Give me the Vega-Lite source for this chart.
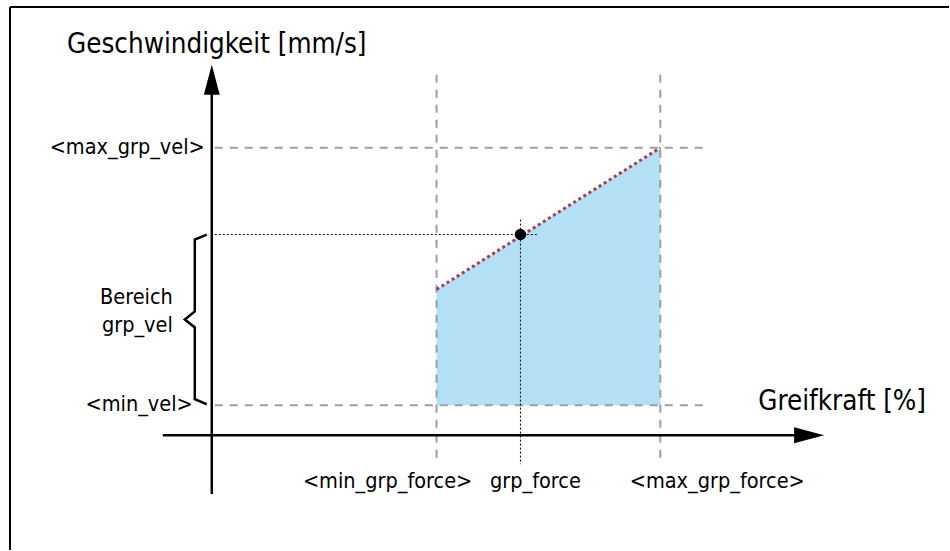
{
  "$schema": "https://vega.github.io/schema/vega-lite/v6.json",
  "width": 950,
  "height": 551,
  "autosize": {"type": "fit", "contains": "padding"},
  "padding": 0,
  "background": "white",
  "config": {"view": {"stroke": null}},
  "datasets": {
    "area": [
      {"x": 225, "top": 146, "bottom": 30},
      {"x": 449, "top": 288, "bottom": 30}
    ],
    "grayDash": [
      {"x": 3, "y": 288, "x2": 498, "y2": 288},
      {"x": 3, "y": 30, "x2": 498, "y2": 30},
      {"x": 225, "y": 361, "x2": 225, "y2": -29},
      {"x": 449, "y": 361, "x2": 449, "y2": -29}
    ],
    "blackDot": [
      {"x": 3, "y": 201, "x2": 326, "y2": 201},
      {"x": 309, "y": 216, "x2": 309, "y2": -29}
    ],
    "redLine": [
      {"x": 225, "y": 146, "x2": 449, "y2": 288}
    ],
    "solid": [
      {"x": 0, "y": -59, "x2": 0, "y2": 345},
      {"x": -49, "y": 0, "x2": 590, "y2": 0}
    ],
    "frame": [
      {"x": -202, "y": 429, "x2": 738, "y2": 429},
      {"x": -202, "y": 429, "x2": -202, "y2": -115}
    ],
    "brace": [
      {"o": 1, "x": -5, "y": 201},
      {"o": 2, "x": -17, "y": 196},
      {"o": 3, "x": -17, "y": 124},
      {"o": 4, "x": -27, "y": 116},
      {"o": 5, "x": -17, "y": 108},
      {"o": 6, "x": -17, "y": 36},
      {"o": 7, "x": -5, "y": 31}
    ],
    "arrowUp": [{"x": 0, "y": 356}],
    "arrowRight": [{"x": 598, "y": 0}],
    "dot": [{"x": 309, "y": 201}],
    "bigText": [
      {"x": 5, "y": 391, "t": "Geschwindigkeit [mm/s]"},
      {"x": 631, "y": 33, "t": "Greifkraft [%]"}
    ],
    "rightText": [
      {"x": -7, "y": 288, "t": "<max_grp_vel>"},
      {"x": -39, "y": 137, "t": "Bereich"},
      {"x": -39, "y": 109, "t": "grp_vel"},
      {"x": -19, "y": 30, "t": "<min_vel>"}
    ],
    "bottomText": [
      {"x": 176, "y": -47, "t": "<min_grp_force>"},
      {"x": 324, "y": -47, "t": "grp_force"},
      {"x": 506, "y": -47, "t": "<max_grp_force>"}
    ]
  },
  "encoding": {
    "x": {"type": "quantitative", "scale": {"domain": [-212, 738], "nice": false, "zero": false}, "axis": null},
    "y": {"type": "quantitative", "scale": {"domain": [-115, 436], "nice": false, "zero": false}, "axis": null}
  },
  "layer": [
    {
      "data": {"name": "area"},
      "mark": {"type": "area", "color": "#b3e0f4", "opacity": 1},
      "encoding": {
        "x": {"field": "x", "type": "quantitative"},
        "y": {"field": "top", "type": "quantitative"},
        "y2": {"field": "bottom"}
      }
    },
    {
      "data": {"name": "grayDash"},
      "mark": {"type": "rule", "color": "#9e9e9e", "strokeWidth": 2, "strokeDash": [8, 7]},
      "encoding": {
        "x": {"field": "x", "type": "quantitative"},
        "y": {"field": "y", "type": "quantitative"},
        "x2": {"field": "x2"},
        "y2": {"field": "y2"}
      }
    },
    {
      "data": {"name": "blackDot"},
      "mark": {"type": "rule", "color": "#000000", "strokeWidth": 1, "strokeDash": [2, 2]},
      "encoding": {
        "x": {"field": "x", "type": "quantitative"},
        "y": {"field": "y", "type": "quantitative"},
        "x2": {"field": "x2"},
        "y2": {"field": "y2"}
      }
    },
    {
      "data": {"name": "redLine"},
      "mark": {"type": "rule", "color": "#b03a4a", "strokeWidth": 3, "strokeDash": [3, 3]},
      "encoding": {
        "x": {"field": "x", "type": "quantitative"},
        "y": {"field": "y", "type": "quantitative"},
        "x2": {"field": "x2"},
        "y2": {"field": "y2"}
      }
    },
    {
      "data": {"name": "solid"},
      "mark": {"type": "rule", "color": "#000000", "strokeWidth": 2.5},
      "encoding": {
        "x": {"field": "x", "type": "quantitative"},
        "y": {"field": "y", "type": "quantitative"},
        "x2": {"field": "x2"},
        "y2": {"field": "y2"}
      }
    },
    {
      "data": {"name": "frame"},
      "mark": {"type": "rule", "color": "#000000", "strokeWidth": 2},
      "encoding": {
        "x": {"field": "x", "type": "quantitative"},
        "y": {"field": "y", "type": "quantitative"},
        "x2": {"field": "x2"},
        "y2": {"field": "y2"}
      }
    },
    {
      "data": {"name": "brace"},
      "mark": {"type": "line", "color": "#000000", "strokeWidth": 2.5, "strokeJoin": "miter"},
      "encoding": {
        "x": {"field": "x", "type": "quantitative"},
        "y": {"field": "y", "type": "quantitative"},
        "order": {"field": "o", "type": "quantitative"}
      }
    },
    {
      "data": {"name": "arrowUp"},
      "mark": {"type": "point", "shape": "M0,-1L0.53,1L-0.53,1Z", "size": 900, "filled": true, "color": "#000000", "opacity": 1},
      "encoding": {
        "x": {"field": "x", "type": "quantitative"},
        "y": {"field": "y", "type": "quantitative"}
      }
    },
    {
      "data": {"name": "arrowRight"},
      "mark": {"type": "point", "shape": "M1,0L-1,0.53L-1,-0.53Z", "size": 900, "filled": true, "color": "#000000", "opacity": 1},
      "encoding": {
        "x": {"field": "x", "type": "quantitative"},
        "y": {"field": "y", "type": "quantitative"}
      }
    },
    {
      "data": {"name": "dot"},
      "mark": {"type": "circle", "size": 130, "color": "#000000", "opacity": 1},
      "encoding": {
        "x": {"field": "x", "type": "quantitative"},
        "y": {"field": "y", "type": "quantitative"}
      }
    },
    {
      "data": {"name": "bigText"},
      "mark": {"type": "text", "font": "DejaVu Sans Condensed", "fontSize": 27.5, "color": "#000000", "baseline": "middle", "align": "center"},
      "encoding": {
        "x": {"field": "x", "type": "quantitative"},
        "y": {"field": "y", "type": "quantitative"},
        "text": {"field": "t"}
      }
    },
    {
      "data": {"name": "rightText"},
      "mark": {"type": "text", "font": "DejaVu Sans Condensed", "fontSize": 21.5, "color": "#000000", "baseline": "middle", "align": "right"},
      "encoding": {
        "x": {"field": "x", "type": "quantitative"},
        "y": {"field": "y", "type": "quantitative"},
        "text": {"field": "t"}
      }
    },
    {
      "data": {"name": "bottomText"},
      "mark": {"type": "text", "font": "DejaVu Sans Condensed", "fontSize": 21.5, "color": "#000000", "baseline": "middle", "align": "center"},
      "encoding": {
        "x": {"field": "x", "type": "quantitative"},
        "y": {"field": "y", "type": "quantitative"},
        "text": {"field": "t"}
      }
    }
  ]
}
